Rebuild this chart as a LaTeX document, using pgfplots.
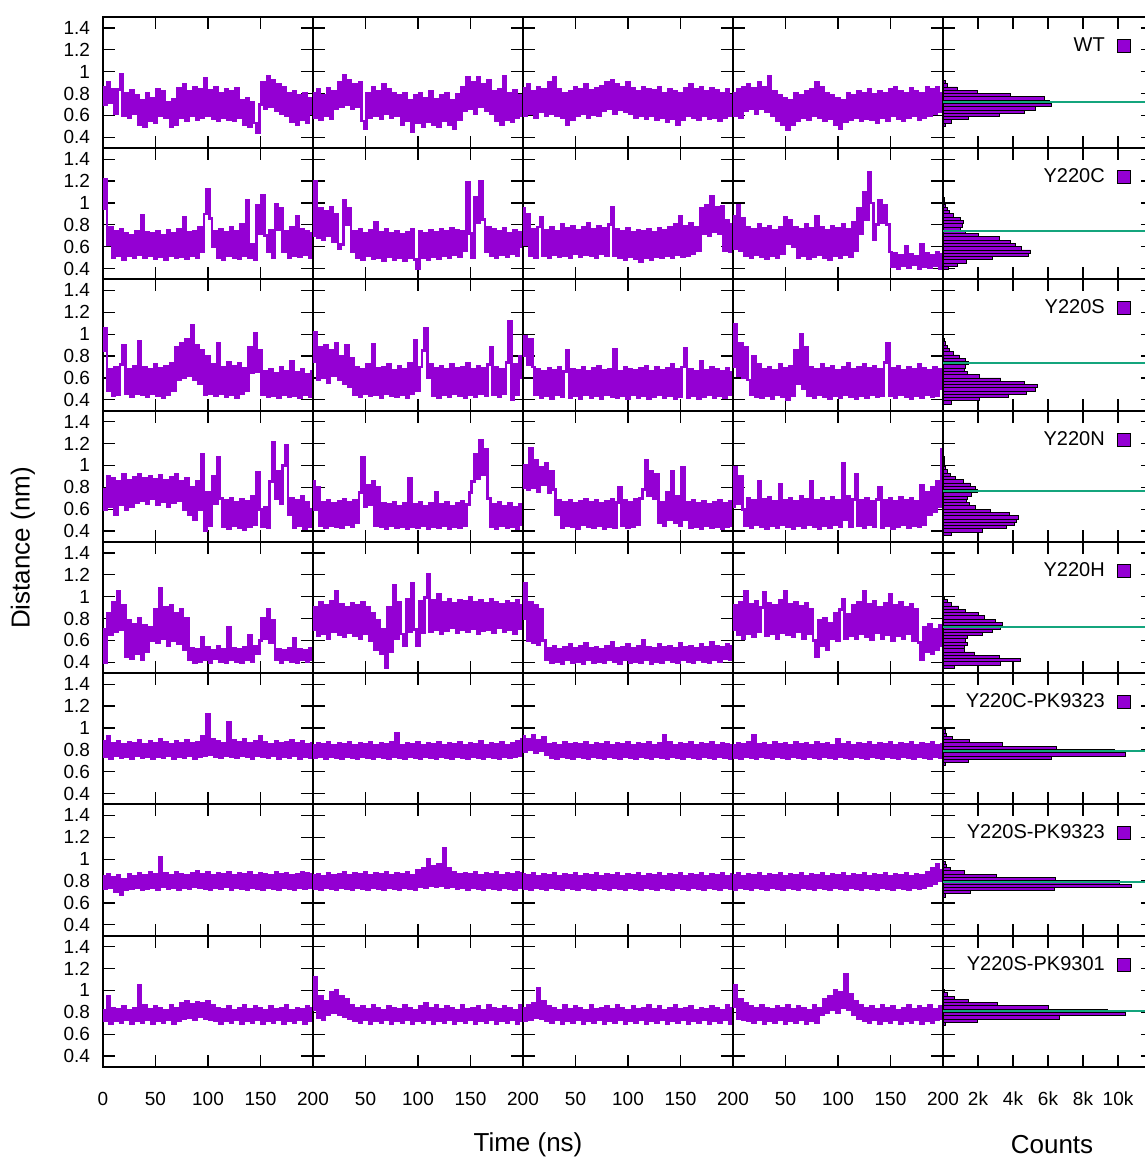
\documentclass[border=0pt]{standalone}
\usepackage{pgfplots}
\pgfplotsset{compat=1.18}
\usepackage{fontspec}
\setmainfont{Liberation Sans}
\definecolor{purp}{RGB}{148,0,211}
\definecolor{tealg}{RGB}{20,165,125}
\pgfplotsset{
  panel/.style={scale only axis, width=105pt, height=65.625pt, anchor=south west,
    ymin=0.3, ymax=1.5, ytick={0.4,0.6,0.8,1,1.2,1.4},
    xticklabels={}, yticklabels={},
    tick align=inside, major tick length=6pt,
    every tick/.style={black, line width=0.6pt},
    axis line style={black, line width=1pt},
    ticklabel style={font=\fontsize{9.5}{11}\selectfont},
    /pgf/number format/assume math mode=true},
  tsp/.style={panel, xmin=0, xmax=200, xtick={0,50,100,150,200}},
  hp/.style={panel, xmin=0, xmax=12000, xtick={0,2000,4000,6000,8000,10000}, scaled x ticks=false,
    legend plot pos=right,
    legend image code/.code={\draw[fill=purp,draw=black,line width=0.5pt] (0pt,-3.3pt) rectangle (6.6pt,3.3pt);},
    legend style={draw=none, fill=none, inner sep=0pt, outer sep=0pt,
      at={(axis description cs:0.895,0.78)}, anchor=east,
      nodes={inner sep=0pt, font=\fontsize{10}{12}\selectfont}, column sep=6pt}},
  lcol/.style={yticklabels={0.4,0.6,0.8,1,1.2,1.4}, yticklabel style={xshift=-3pt}},
  brow/.style={xticklabel style={yshift=-9pt}},
}
\newcommand{\ts}[1]{\addplot[purp, const plot mark mid, line width=1.35pt, line join=miter] table[row sep=\\, header=false, x expr=\coordindex*2.5, y index=0] {#1};}
\newcommand{\hist}[2]{\addplot[xbar, bar width=0.03, fill=purp, draw=black, line width=0.4pt, forget plot] table[row sep=\\, header=false, x index=1, y index=0] {#1};
 \addplot[tealg, line width=0.9pt, forget plot] coordinates {(0,#2) (12000,#2)};}
\begin{document}
\begin{tikzpicture}
\useasboundingbox (0,0) rectangle (572pt,580pt);
% ---------------- Row 1: WT
\begin{axis}[tsp, lcol, at={(51.5pt,505.875pt)}]
\ts{0.86\\0.70\\0.90\\0.72\\0.84\\0.62\\0.84\\0.98\\0.60\\0.80\\0.58\\0.83\\0.62\\0.78\\0.52\\0.74\\0.50\\0.80\\0.55\\0.76\\0.53\\
0.84\\0.60\\0.82\\0.58\\0.72\\0.50\\0.75\\0.52\\0.85\\0.58\\0.88\\0.55\\0.82\\0.60\\0.86\\0.56\\0.84\\0.58\\0.94\\0.60\\
0.83\\0.57\\0.86\\0.55\\0.80\\0.58\\0.84\\0.56\\0.82\\0.55\\0.85\\0.58\\0.74\\0.52\\0.76\\0.50\\0.72\\0.53\\0.44\\0.70\\
0.90\\0.66\\0.96\\0.68\\0.92\\0.64\\0.88\\0.62\\0.86\\0.60\\0.80\\0.54\\0.82\\0.52\\0.78\\0.56\\0.80\\0.53\\0.76\\0.62\\}
\end{axis}
\begin{axis}[tsp, at={(156.5pt,505.875pt)}]
\ts{0.80\\0.58\\0.84\\0.56\\0.78\\0.60\\0.85\\0.57\\0.82\\0.66\\0.90\\0.68\\0.97\\0.70\\0.92\\0.66\\0.88\\0.68\\0.90\\0.55\\0.48\\
0.80\\0.58\\0.86\\0.60\\0.82\\0.57\\0.88\\0.62\\0.84\\0.58\\0.80\\0.60\\0.78\\0.52\\0.80\\0.55\\0.74\\0.45\\0.78\\0.53\\
0.80\\0.50\\0.76\\0.54\\0.82\\0.52\\0.75\\0.50\\0.78\\0.55\\0.80\\0.52\\0.74\\0.48\\0.79\\0.56\\0.86\\0.64\\0.95\\0.66\\
0.90\\0.62\\0.95\\0.68\\0.88\\0.64\\0.92\\0.62\\0.82\\0.55\\0.84\\0.52\\0.96\\0.56\\0.80\\0.54\\0.83\\0.58\\0.78\\0.60\\}
\end{axis}
\begin{axis}[tsp, at={(261.5pt,505.875pt)}]
\ts{0.85\\0.60\\0.88\\0.62\\0.82\\0.58\\0.86\\0.63\\0.84\\0.60\\0.90\\0.62\\0.95\\0.60\\0.84\\0.58\\0.80\\0.52\\0.82\\0.56\\
0.86\\0.60\\0.84\\0.62\\0.88\\0.58\\0.83\\0.61\\0.85\\0.60\\0.87\\0.64\\0.90\\0.66\\0.92\\0.62\\0.88\\0.65\\0.86\\0.63\\
0.90\\0.62\\0.85\\0.58\\0.82\\0.60\\0.86\\0.57\\0.84\\0.60\\0.83\\0.56\\0.86\\0.58\\0.80\\0.54\\0.84\\0.57\\0.82\\0.52\\
0.80\\0.56\\0.85\\0.60\\0.88\\0.58\\0.84\\0.56\\0.86\\0.60\\0.82\\0.57\\0.85\\0.58\\0.83\\0.55\\0.80\\0.58\\0.84\\0.60\\0.78\\}
\end{axis}
\begin{axis}[tsp, at={(366.5pt,505.875pt)}]
\ts{0.80\\0.60\\0.84\\0.58\\0.86\\0.64\\0.88\\0.66\\0.85\\0.62\\0.90\\0.66\\0.86\\0.63\\0.96\\0.60\\0.82\\0.55\\0.78\\0.52\\
0.76\\0.47\\0.74\\0.52\\0.80\\0.55\\0.78\\0.58\\0.82\\0.56\\0.84\\0.60\\0.90\\0.58\\0.86\\0.55\\0.80\\0.57\\0.78\\0.52\\
0.76\\0.48\\0.74\\0.54\\0.80\\0.56\\0.78\\0.58\\0.82\\0.55\\0.80\\0.57\\0.84\\0.56\\0.79\\0.53\\0.82\\0.58\\0.80\\0.55\\
0.84\\0.60\\0.86\\0.57\\0.82\\0.55\\0.80\\0.58\\0.85\\0.60\\0.82\\0.56\\0.80\\0.58\\0.86\\0.60\\0.84\\0.62\\0.86\\0.63\\0.80\\}
\end{axis}
\begin{axis}[hp, at={(471.5pt,505.875pt)}]
\hist{0.965 20\\0.935 40\\0.905 110\\0.875 250\\0.845 800\\0.815 1960\\0.785 3870\\0.755 5770\\0.725 6100\\0.695 6200\\0.665 5260\\0.635 4670\\0.605 3200\\0.575 1450\\0.545 500\\0.515 150\\0.485 40\\0.455 20\\}{0.725}
\addlegendimage{fill=purp}\addlegendentry{WT}
\end{axis}
% ---------------- Row 2: Y220C
\begin{axis}[tsp, lcol, at={(51.5pt,440.25pt)}]
\ts{0.95\\1.22\\0.62\\0.78\\0.50\\0.74\\0.52\\0.76\\0.48\\0.72\\0.52\\0.70\\0.50\\0.74\\0.53\\0.89\\0.50\\0.73\\0.52\\
0.72\\0.49\\0.74\\0.51\\0.70\\0.48\\0.75\\0.52\\0.72\\0.50\\0.76\\0.51\\0.87\\0.49\\0.73\\0.52\\0.74\\0.50\\0.78\\0.55\\
0.90\\1.12\\0.86\\0.60\\0.74\\0.50\\0.76\\0.48\\0.73\\0.52\\0.78\\0.50\\0.74\\0.49\\0.80\\0.52\\1.02\\0.50\\0.62\\0.48\\
0.98\\0.72\\1.07\\0.70\\0.55\\0.75\\0.50\\0.99\\0.76\\0.95\\0.55\\0.74\\0.50\\0.78\\0.52\\0.88\\0.51\\0.76\\0.53\\0.74\\0.50\\0.72\\}
\end{axis}
\begin{axis}[tsp, at={(156.5pt,440.25pt)}]
\ts{0.70\\1.20\\0.68\\0.95\\0.66\\0.92\\0.70\\0.96\\0.65\\0.90\\0.58\\0.62\\1.02\\0.80\\0.95\\
0.55\\0.74\\0.50\\0.76\\0.48\\0.72\\0.52\\0.75\\0.49\\0.82\\0.50\\0.73\\0.47\\0.76\\0.51\\0.72\\0.48\\0.74\\0.50\\0.71\\
0.47\\0.73\\0.50\\0.76\\0.48\\0.40\\0.74\\0.50\\0.72\\0.48\\0.75\\0.51\\0.73\\0.49\\0.76\\0.52\\0.74\\0.50\\0.77\\0.53\\
0.75\\0.51\\0.74\\0.56\\1.19\\0.72\\0.50\\1.05\\0.82\\1.20\\0.85\\0.55\\0.78\\
0.52\\0.76\\0.50\\0.74\\0.53\\0.77\\0.51\\0.72\\0.54\\0.75\\0.52\\0.73\\0.60\\}
\end{axis}
\begin{axis}[tsp, at={(261.5pt,440.25pt)}]
\ts{0.95\\0.62\\0.90\\0.52\\0.76\\0.50\\0.78\\0.87\\0.52\\0.75\\0.50\\0.78\\0.53\\0.74\\0.51\\0.80\\0.52\\0.77\\0.50\\
0.79\\0.54\\0.75\\0.51\\0.78\\0.53\\0.81\\0.52\\0.76\\0.50\\0.79\\0.54\\0.77\\0.52\\0.80\\0.96\\
0.52\\0.76\\0.50\\0.74\\0.48\\0.77\\0.51\\0.73\\0.49\\0.75\\0.46\\0.74\\0.50\\0.76\\0.48\\0.73\\0.51\\0.77\\0.50\\0.75\\
0.52\\0.78\\0.50\\0.80\\0.53\\0.88\\0.51\\0.79\\0.52\\0.81\\0.54\\0.78\\0.56\\
0.95\\0.72\\0.98\\0.70\\1.06\\0.74\\0.96\\0.72\\0.97\\0.56\\0.84\\0.55\\0.80\\}
\end{axis}
\begin{axis}[tsp, at={(366.5pt,440.25pt)}]
\ts{0.88\\0.58\\0.98\\0.56\\0.86\\0.52\\0.78\\0.50\\0.76\\0.53\\0.80\\0.51\\0.77\\0.49\\0.79\\0.52\\0.75\\0.50\\0.78\\0.54\\
0.87\\0.63\\0.84\\0.60\\0.78\\0.50\\0.76\\0.52\\0.80\\0.49\\0.77\\0.51\\0.88\\0.53\\0.78\\0.50\\0.75\\0.48\\0.79\\0.52\\
0.77\\0.50\\0.80\\0.53\\0.76\\0.51\\0.82\\0.56\\0.95\\0.72\\1.10\\0.85\\1.28\\1.00\\0.66\\0.80\\1.02\\0.82\\0.98\\0.80\\
0.55\\0.42\\0.54\\0.40\\0.52\\0.43\\0.60\\0.41\\0.53\\0.44\\0.51\\0.40\\0.62\\0.42\\0.54\\0.41\\0.52\\0.43\\0.55\\0.40\\0.53\\}
\end{axis}
\begin{axis}[hp, at={(471.5pt,440.25pt)}]
\hist{1.065 40\\1.035 60\\1.005 100\\0.975 150\\0.945 250\\0.915 380\\0.885 570\\0.855 1000\\0.825 1140\\0.795 1100\\0.765 1000\\0.735 1300\\0.705 2000\\0.675 3200\\0.645 3870\\0.615 4150\\0.585 4500\\0.555 5000\\0.525 4900\\0.495 2800\\0.465 1330\\0.435 820\\0.405 300\\}{0.743}
\addlegendimage{fill=purp}\addlegendentry{Y220C}
\end{axis}
% ---------------- Row 3: Y220S
\begin{axis}[tsp, lcol, at={(51.5pt,374.625pt)}]
\ts{0.85\\1.05\\0.48\\0.68\\0.44\\0.70\\0.45\\0.72\\0.90\\0.46\\0.68\\0.43\\0.71\\0.46\\0.93\\
0.45\\0.70\\0.43\\0.68\\0.46\\0.72\\0.44\\0.69\\0.42\\0.71\\0.45\\0.73\\0.48\\
0.88\\0.58\\0.92\\0.60\\0.95\\0.62\\1.08\\0.58\\0.90\\0.55\\0.85\\0.45\\0.80\\
0.46\\0.72\\0.44\\0.92\\0.46\\0.70\\0.43\\0.74\\0.45\\0.71\\0.42\\0.73\\0.46\\0.69\\0.48\\
0.88\\0.65\\1.01\\0.66\\0.85\\
0.45\\0.66\\0.43\\0.68\\0.44\\0.64\\0.42\\0.70\\0.45\\0.66\\0.43\\0.75\\0.44\\0.65\\0.42\\0.68\\0.45\\0.63\\0.43\\0.66\\}
\end{axis}
\begin{axis}[tsp, at={(156.5pt,374.625pt)}]
\ts{0.75\\1.02\\0.58\\0.88\\0.60\\0.90\\0.56\\0.85\\0.62\\0.92\\0.58\\0.80\\0.55\\0.90\\0.52\\0.78\\
0.45\\0.70\\0.43\\0.68\\0.46\\0.72\\0.44\\0.91\\0.45\\0.69\\0.42\\0.70\\0.46\\0.72\\0.44\\0.67\\0.43\\0.71\\0.45\\0.68\\
0.42\\0.73\\0.46\\0.94\\0.48\\0.70\\0.85\\1.05\\0.60\\0.72\\0.44\\0.69\\0.42\\0.71\\0.45\\0.68\\0.43\\0.72\\0.46\\0.69\\
0.44\\0.70\\0.42\\0.73\\0.45\\0.68\\0.43\\0.71\\0.46\\0.69\\0.44\\0.72\\0.88\\0.45\\0.70\\0.43\\0.68\\0.46\\0.74\\1.12\\
0.40\\0.72\\0.45\\0.80\\0.60\\}
\end{axis}
\begin{axis}[tsp, at={(261.5pt,374.625pt)}]
\ts{0.80\\0.98\\0.72\\0.95\\0.70\\0.45\\
0.68\\0.42\\0.66\\0.44\\0.69\\0.41\\0.67\\0.45\\0.70\\0.43\\0.66\\0.85\\0.42\\0.68\\0.44\\0.67\\0.41\\0.70\\0.45\\0.66\\
0.42\\0.69\\0.44\\0.71\\0.41\\0.67\\0.45\\0.68\\0.43\\0.86\\0.42\\0.66\\0.44\\0.70\\0.41\\0.68\\0.45\\0.67\\0.42\\0.69\\
0.44\\0.71\\0.41\\0.66\\0.43\\0.70\\0.45\\0.67\\0.42\\0.69\\0.44\\0.72\\0.41\\0.68\\0.43\\0.70\\0.87\\0.42\\0.68\\0.44\\
0.66\\0.41\\0.75\\0.43\\0.67\\0.45\\0.70\\0.42\\0.68\\0.44\\0.66\\0.42\\0.69\\0.45\\0.65\\}
\end{axis}
\begin{axis}[tsp, at={(366.5pt,374.625pt)}]
\ts{0.70\\1.09\\0.62\\0.92\\0.60\\0.88\\0.58\\0.45\\0.80\\0.43\\0.72\\
0.42\\0.68\\0.44\\0.70\\0.41\\0.67\\0.45\\0.72\\0.43\\0.69\\0.40\\0.71\\0.44\\0.85\\0.55\\1.00\\0.50\\0.88\\
0.44\\0.70\\0.42\\0.68\\0.45\\0.72\\0.43\\0.69\\0.41\\0.71\\0.44\\0.67\\0.42\\0.70\\0.45\\0.73\\0.43\\0.68\\0.41\\0.70\\
0.44\\0.72\\0.42\\0.69\\0.45\\0.71\\0.43\\0.68\\0.44\\0.74\\0.92\\
0.44\\0.69\\0.42\\0.71\\0.45\\0.67\\0.43\\0.70\\0.41\\0.68\\0.44\\0.72\\0.42\\0.69\\0.45\\0.67\\0.43\\0.70\\0.44\\0.68\\0.50\\}
\end{axis}
\begin{axis}[hp, at={(471.5pt,374.625pt)}]
\hist{0.945 60\\0.915 150\\0.885 250\\0.855 380\\0.825 570\\0.795 910\\0.765 1260\\0.735 1450\\0.705 1300\\0.675 1200\\0.645 1390\\0.615 2060\\0.585 3300\\0.555 4630\\0.525 5390\\0.495 5300\\0.465 4780\\0.435 3710\\0.405 2060\\0.375 500\\}{0.733}
\addlegendimage{fill=purp}\addlegendentry{Y220S}
\end{axis}
% ---------------- Row 4: Y220N
\begin{axis}[tsp, lcol, at={(51.5pt,309pt)}]
\ts{0.78\\0.60\\0.90\\0.62\\0.88\\0.55\\0.85\\0.64\\0.92\\0.60\\0.86\\0.62\\0.89\\
0.66\\0.92\\0.68\\0.88\\0.65\\0.90\\0.70\\0.87\\0.64\\0.91\\0.67\\0.86\\0.62\\0.89\\0.66\\0.92\\0.68\\0.85\\
0.60\\0.88\\0.55\\0.80\\0.50\\0.85\\0.60\\1.10\\0.40\\0.75\\0.45\\0.90\\0.65\\1.07\\0.70\\
0.44\\0.68\\0.42\\0.70\\0.45\\0.66\\0.43\\0.69\\0.41\\0.67\\0.44\\0.72\\0.46\\0.94\\0.60\\0.44\\0.62\\0.43\\
0.85\\1.21\\0.70\\0.95\\0.65\\1.00\\1.18\\0.55\\0.70\\0.43\\0.68\\0.45\\0.72\\0.42\\0.66\\0.44\\0.60\\}
\end{axis}
\begin{axis}[tsp, at={(156.5pt,309pt)}]
\ts{0.85\\0.60\\0.80\\0.45\\0.66\\0.43\\0.68\\0.45\\0.65\\0.44\\0.67\\0.43\\0.69\\0.46\\0.66\\0.44\\0.68\\0.48\\
0.75\\1.07\\0.62\\0.82\\0.64\\0.85\\0.45\\0.80\\0.44\\
0.65\\0.42\\0.64\\0.45\\0.66\\0.43\\0.63\\0.44\\0.65\\0.42\\0.88\\0.44\\0.64\\0.43\\0.66\\0.45\\0.63\\0.42\\0.65\\0.44\\
0.75\\0.43\\0.64\\0.45\\0.66\\0.42\\0.63\\0.44\\0.65\\0.43\\0.67\\0.45\\0.64\\0.75\\
0.85\\1.10\\0.88\\1.23\\0.92\\1.15\\0.70\\
0.44\\0.64\\0.42\\0.66\\0.45\\0.63\\0.43\\0.65\\0.44\\0.62\\0.42\\0.64\\0.46\\}
\end{axis}
\begin{axis}[tsp, at={(261.5pt,309pt)}]
\ts{0.80\\1.00\\0.78\\1.16\\0.80\\1.05\\0.76\\0.98\\0.82\\1.02\\0.75\\0.95\\0.78\\0.55\\0.68\\
0.43\\0.66\\0.45\\0.68\\0.44\\0.65\\0.42\\0.67\\0.46\\0.69\\0.44\\0.66\\0.43\\0.68\\0.45\\0.65\\
0.42\\0.67\\0.44\\0.69\\0.43\\0.66\\0.80\\0.45\\0.68\\0.43\\0.66\\0.44\\0.69\\0.46\\0.70\\
0.78\\1.05\\0.72\\0.95\\0.70\\0.92\\0.48\\0.66\\0.45\\
0.75\\0.50\\0.95\\0.48\\0.72\\0.45\\0.98\\0.50\\
0.66\\0.43\\0.68\\0.44\\0.65\\0.42\\0.67\\0.45\\0.64\\0.43\\0.66\\0.44\\0.68\\0.42\\0.65\\0.44\\0.67\\0.45\\}
\end{axis}
\begin{axis}[tsp, at={(366.5pt,309pt)}]
\ts{0.62\\0.98\\0.65\\0.90\\0.60\\
0.45\\0.70\\0.43\\0.68\\0.46\\0.85\\0.44\\0.69\\0.42\\0.71\\0.45\\0.67\\0.43\\0.83\\0.46\\0.68\\0.44\\0.70\\0.42\\0.67\\
0.45\\0.72\\0.43\\0.69\\0.46\\0.85\\0.44\\0.68\\0.42\\0.70\\0.45\\0.67\\0.43\\0.71\\0.46\\0.68\\0.44\\1.02\\0.50\\0.72\\
0.44\\0.69\\0.92\\0.45\\0.68\\0.43\\0.70\\0.46\\0.67\\0.44\\0.69\\0.80\\0.43\\0.68\\0.45\\0.70\\0.42\\0.67\\0.44\\0.71\\
0.46\\0.68\\0.43\\0.70\\0.45\\0.67\\0.44\\0.82\\0.46\\0.75\\0.55\\0.80\\0.58\\0.85\\0.62\\1.15\\}
\end{axis}
\begin{axis}[hp, at={(471.5pt,309pt)}]
\hist{1.095 50\\1.065 60\\1.035 80\\1.005 100\\0.975 150\\0.945 250\\0.915 440\\0.885 690\\0.855 1150\\0.825 1550\\0.795 1850\\0.765 1960\\0.735 1640\\0.705 1390\\0.675 1330\\0.645 1490\\0.615 1870\\0.585 2700\\0.555 3800\\0.525 4300\\0.495 4200\\0.465 4060\\0.435 3600\\0.405 2250\\0.375 500\\}{0.766}
\addlegendimage{fill=purp}\addlegendentry{Y220N}
\end{axis}
% ---------------- Row 5: Y220H
\begin{axis}[tsp, lcol, at={(51.5pt,243.375pt)}]
\ts{0.70\\0.40\\0.85\\0.65\\0.95\\0.68\\1.05\\0.70\\0.92\\
0.45\\0.78\\0.43\\0.75\\0.48\\0.80\\0.42\\0.74\\0.50\\0.72\\
0.60\\0.88\\0.58\\1.08\\0.62\\0.90\\0.55\\0.92\\0.60\\0.85\\0.57\\0.88\\0.52\\0.80\\
0.42\\0.53\\0.40\\0.52\\0.41\\0.63\\0.42\\0.54\\0.40\\0.51\\0.43\\0.55\\0.41\\0.52\\0.40\\0.72\\0.42\\0.53\\0.41\\0.52\\
0.40\\0.54\\0.42\\0.65\\0.41\\0.55\\0.48\\0.60\\0.80\\0.62\\0.88\\0.58\\0.78\\
0.42\\0.52\\0.40\\0.51\\0.42\\0.53\\0.41\\0.62\\0.40\\0.52\\0.42\\0.51\\0.41\\0.53\\0.42\\}
\end{axis}
\begin{axis}[tsp, at={(156.5pt,243.375pt)}]
\ts{0.70\\0.90\\0.64\\0.95\\0.66\\0.92\\0.62\\0.96\\0.68\\1.05\\0.65\\0.93\\0.63\\0.90\\0.67\\0.94\\0.64\\0.92\\0.62\\0.95\\
0.66\\0.90\\0.60\\0.85\\0.52\\0.78\\0.48\\0.70\\0.35\\0.90\\0.50\\1.10\\0.62\\
0.95\\0.66\\0.55\\0.98\\0.68\\1.12\\0.70\\0.55\\0.96\\0.67\\0.99\\1.20\\0.68\\0.97\\0.70\\1.02\\0.66\\0.95\\0.69\\0.98\\
0.72\\0.94\\0.67\\0.97\\0.70\\0.96\\0.68\\0.99\\0.71\\0.95\\0.66\\0.97\\0.69\\0.94\\0.70\\0.98\\0.67\\0.95\\0.72\\0.93\\
0.68\\0.96\\0.70\\0.94\\0.66\\0.97\\0.71\\0.92\\}
\end{axis}
\begin{axis}[tsp, at={(261.5pt,243.375pt)}]
\ts{0.80\\1.12\\0.60\\0.95\\0.58\\0.92\\0.56\\0.88\\0.60\\0.42\\
0.53\\0.40\\0.55\\0.41\\0.52\\0.39\\0.54\\0.42\\0.56\\0.40\\0.53\\0.41\\0.55\\0.39\\0.57\\0.42\\0.53\\0.40\\0.54\\0.41\\
0.52\\0.40\\0.55\\0.42\\0.58\\0.41\\0.53\\0.39\\0.54\\0.42\\0.56\\0.40\\0.53\\0.41\\0.55\\0.40\\0.60\\0.42\\0.54\\0.39\\
0.53\\0.41\\0.56\\0.40\\0.54\\0.42\\0.55\\0.41\\0.53\\0.40\\0.57\\0.42\\0.54\\0.41\\0.55\\0.40\\0.53\\0.42\\0.56\\0.41\\
0.54\\0.40\\0.58\\0.42\\0.55\\0.41\\0.54\\0.43\\0.56\\0.42\\0.55\\}
\end{axis}
\begin{axis}[tsp, at={(366.5pt,243.375pt)}]
\ts{0.70\\0.92\\0.65\\0.95\\0.62\\1.05\\0.66\\0.93\\0.63\\0.96\\0.68\\0.90\\1.04\\0.64\\0.94\\0.66\\0.92\\0.62\\0.97\\0.67\\
1.05\\0.65\\0.93\\0.63\\0.95\\0.68\\0.91\\0.62\\0.94\\0.66\\0.88\\0.60\\
0.45\\0.78\\0.55\\0.80\\0.52\\0.76\\0.62\\0.85\\0.60\\0.88\\0.98\\0.62\\0.84\\
0.64\\0.92\\0.62\\0.95\\0.66\\1.05\\0.63\\0.93\\0.61\\0.96\\0.67\\0.90\\0.62\\0.94\\0.65\\1.02\\0.60\\0.92\\0.64\\0.95\\
0.62\\0.90\\0.66\\0.93\\0.60\\0.88\\0.58\\0.42\\0.72\\0.50\\0.75\\0.48\\0.70\\0.52\\0.74\\0.55\\}
\end{axis}
\begin{axis}[hp, at={(471.5pt,243.375pt)}]
\hist{0.99 70\\0.96 250\\0.93 500\\0.90 900\\0.87 1300\\0.84 2000\\0.81 2350\\0.78 3000\\0.75 3390\\0.72 3300\\0.69 2800\\0.66 2250\\0.63 1400\\0.60 1300\\0.57 1400\\0.54 1200\\0.51 1200\\0.48 1800\\0.45 3200\\0.42 4440\\0.39 3300\\0.36 630\\}{0.722}
\addlegendimage{fill=purp}\addlegendentry{Y220H}
\end{axis}
% ---------------- Row 6: Y220C-PK9323
\begin{axis}[tsp, lcol, at={(51.5pt,177.75pt)}]
\ts{0.88\\0.74\\0.92\\0.72\\0.86\\0.75\\0.88\\0.73\\0.85\\0.74\\0.87\\0.72\\0.86\\0.75\\0.89\\0.73\\0.85\\0.74\\0.88\\0.72\\
0.86\\0.74\\0.90\\0.73\\0.87\\0.75\\0.85\\0.72\\0.88\\0.74\\0.86\\0.73\\0.89\\0.75\\0.86\\0.72\\0.87\\0.74\\0.92\\0.75\\
1.12\\0.76\\0.90\\0.74\\0.88\\0.73\\0.86\\0.75\\1.05\\0.74\\0.89\\0.73\\0.87\\0.75\\0.90\\0.74\\0.86\\0.72\\0.88\\0.75\\
0.92\\0.74\\0.87\\0.73\\0.85\\0.75\\0.88\\0.72\\0.86\\0.74\\0.87\\0.73\\0.89\\0.75\\0.86\\0.72\\0.88\\0.74\\0.85\\0.73\\0.86\\}
\end{axis}
\begin{axis}[tsp, at={(156.5pt,177.75pt)}]
\ts{0.84\\0.73\\0.86\\0.74\\0.85\\0.72\\0.87\\0.74\\0.84\\0.73\\0.86\\0.72\\0.85\\0.74\\0.87\\0.73\\0.84\\0.72\\0.86\\0.74\\
0.85\\0.73\\0.87\\0.72\\0.84\\0.74\\0.86\\0.73\\0.85\\0.72\\0.87\\0.74\\0.95\\0.73\\0.84\\0.72\\0.86\\0.74\\0.85\\0.73\\
0.87\\0.72\\0.84\\0.74\\0.86\\0.73\\0.85\\0.72\\0.87\\0.74\\0.84\\0.73\\0.86\\0.72\\0.85\\0.74\\0.87\\0.73\\0.84\\0.72\\
0.86\\0.74\\0.85\\0.73\\0.88\\0.72\\0.84\\0.74\\0.86\\0.73\\0.85\\0.72\\0.87\\0.74\\0.84\\0.73\\0.86\\0.74\\0.88\\0.75\\0.90\\}
\end{axis}
\begin{axis}[tsp, at={(261.5pt,177.75pt)}]
\ts{0.92\\0.78\\0.90\\0.80\\0.93\\0.77\\0.89\\0.79\\0.91\\0.76\\0.85\\0.73\\0.86\\0.72\\0.84\\0.74\\0.87\\0.73\\0.85\\0.72\\
0.86\\0.74\\0.85\\0.73\\0.87\\0.72\\0.84\\0.74\\0.86\\0.73\\0.85\\0.72\\0.87\\0.74\\0.84\\0.73\\0.86\\0.72\\0.85\\0.74\\
0.87\\0.73\\0.84\\0.72\\0.86\\0.74\\0.85\\0.73\\0.87\\0.72\\0.84\\0.74\\0.86\\0.73\\0.93\\0.72\\0.87\\0.74\\0.84\\0.73\\
0.86\\0.72\\0.85\\0.74\\0.87\\0.73\\0.84\\0.72\\0.86\\0.74\\0.85\\0.73\\0.87\\0.72\\0.84\\0.74\\0.86\\0.73\\0.85\\0.72\\0.84\\}
\end{axis}
\begin{axis}[tsp, at={(366.5pt,177.75pt)}]
\ts{0.84\\0.73\\0.86\\0.72\\0.85\\0.74\\0.87\\0.73\\0.93\\0.72\\0.85\\0.74\\0.86\\0.73\\0.84\\0.72\\0.87\\0.74\\0.85\\0.73\\
0.86\\0.72\\0.84\\0.74\\0.87\\0.73\\0.85\\0.72\\0.86\\0.74\\0.84\\0.73\\0.87\\0.72\\0.85\\0.74\\0.86\\0.73\\0.84\\0.72\\
0.90\\0.74\\0.85\\0.73\\0.87\\0.72\\0.84\\0.74\\0.86\\0.73\\0.85\\0.72\\0.87\\0.74\\0.84\\0.73\\0.86\\0.72\\0.85\\0.74\\
0.87\\0.73\\0.84\\0.72\\0.86\\0.74\\0.85\\0.73\\0.87\\0.72\\0.84\\0.74\\0.86\\0.73\\0.85\\0.72\\0.87\\0.74\\0.84\\0.73\\0.85\\}
\end{axis}
\begin{axis}[hp, at={(471.5pt,177.75pt)}]
\hist{0.969 110\\0.939 190\\0.909 530\\0.879 1520\\0.849 3390\\0.819 6500\\0.789 9770\\0.759 10440\\0.729 6200\\0.699 1450\\0.669 150\\}{0.792}
\addlegendimage{fill=purp}\addlegendentry{Y220C-PK9323}
\end{axis}
% ---------------- Row 7: Y220S-PK9323
\begin{axis}[tsp, lcol, at={(51.5pt,112.125pt)}]
\ts{0.84\\0.73\\0.86\\0.74\\0.83\\0.70\\0.85\\0.68\\0.82\\0.72\\0.86\\0.73\\0.84\\0.74\\0.87\\0.72\\0.85\\0.73\\0.88\\0.74\\
0.86\\0.72\\1.02\\0.75\\0.87\\0.73\\0.85\\0.74\\0.88\\0.72\\0.86\\0.74\\0.85\\0.73\\0.87\\0.75\\0.89\\0.74\\0.86\\0.73\\
0.88\\0.72\\0.85\\0.74\\0.87\\0.73\\0.86\\0.75\\0.88\\0.72\\0.85\\0.74\\0.87\\0.73\\0.86\\0.72\\0.88\\0.74\\0.85\\0.73\\
0.87\\0.72\\0.86\\0.74\\0.85\\0.73\\0.88\\0.72\\0.86\\0.74\\0.87\\0.73\\0.85\\0.72\\0.86\\0.74\\0.88\\0.73\\0.87\\0.74\\0.86\\}
\end{axis}
\begin{axis}[tsp, at={(156.5pt,112.125pt)}]
\ts{0.85\\0.73\\0.86\\0.72\\0.84\\0.74\\0.87\\0.73\\0.85\\0.72\\0.86\\0.74\\0.88\\0.73\\0.85\\0.72\\0.87\\0.74\\0.86\\0.73\\
0.88\\0.72\\0.85\\0.74\\0.87\\0.73\\0.86\\0.72\\0.88\\0.74\\0.85\\0.73\\0.87\\0.72\\0.86\\0.74\\0.88\\0.73\\0.85\\0.72\\
0.90\\0.75\\0.92\\0.74\\1.00\\0.76\\0.93\\0.75\\0.95\\0.76\\1.10\\0.74\\0.92\\0.75\\0.88\\0.73\\0.86\\0.74\\0.87\\0.72\\
0.86\\0.74\\0.88\\0.73\\0.85\\0.72\\0.87\\0.74\\0.86\\0.73\\0.88\\0.72\\0.85\\0.74\\0.87\\0.73\\0.86\\0.72\\0.88\\0.74\\0.87\\}
\end{axis}
\begin{axis}[tsp, at={(261.5pt,112.125pt)}]
\ts{0.86\\0.73\\0.85\\0.72\\0.87\\0.74\\0.84\\0.73\\0.86\\0.72\\0.85\\0.74\\0.87\\0.73\\0.84\\0.72\\0.86\\0.74\\0.85\\0.73\\
0.87\\0.72\\0.84\\0.74\\0.86\\0.73\\0.85\\0.72\\0.87\\0.74\\0.84\\0.73\\0.86\\0.72\\0.85\\0.74\\0.87\\0.73\\0.84\\0.72\\
0.86\\0.74\\0.85\\0.73\\0.87\\0.72\\0.84\\0.74\\0.86\\0.73\\0.85\\0.72\\0.87\\0.74\\0.84\\0.73\\0.86\\0.72\\0.85\\0.74\\
0.87\\0.73\\0.84\\0.72\\0.86\\0.74\\0.85\\0.73\\0.87\\0.72\\0.84\\0.74\\0.86\\0.73\\0.85\\0.72\\0.87\\0.74\\0.84\\0.73\\0.86\\}
\end{axis}
\begin{axis}[tsp, at={(366.5pt,112.125pt)}]
\ts{0.85\\0.72\\0.87\\0.74\\0.84\\0.73\\0.86\\0.72\\0.85\\0.74\\0.87\\0.73\\0.84\\0.72\\0.86\\0.74\\0.85\\0.73\\0.87\\0.72\\
0.84\\0.74\\0.86\\0.73\\0.85\\0.72\\0.87\\0.74\\0.84\\0.73\\0.86\\0.72\\0.85\\0.74\\0.87\\0.73\\0.84\\0.72\\0.86\\0.74\\
0.85\\0.73\\0.87\\0.72\\0.84\\0.74\\0.86\\0.73\\0.85\\0.72\\0.87\\0.74\\0.84\\0.73\\0.86\\0.72\\0.85\\0.74\\0.87\\0.73\\
0.84\\0.72\\0.86\\0.74\\0.85\\0.73\\0.87\\0.72\\0.84\\0.74\\0.86\\0.73\\0.85\\0.74\\0.88\\0.76\\0.92\\0.78\\0.95\\0.80\\0.90\\}
\end{axis}
\begin{axis}[hp, at={(471.5pt,112.125pt)}]
\hist{0.968 110\\0.938 190\\0.908 440\\0.878 1200\\0.848 3070\\0.818 6400\\0.788 10060\\0.758 10760\\0.728 6340\\0.698 1580\\0.668 110\\}{0.788}
\addlegendimage{fill=purp}\addlegendentry{Y220S-PK9323}
\end{axis}
% ---------------- Row 8: Y220S-PK9301
\begin{axis}[tsp, lcol, brow, xticklabels={0,50,100,150,200}, at={(51.5pt,46.5pt)}]
\ts{0.82\\0.72\\0.95\\0.70\\0.84\\0.72\\0.83\\0.71\\0.85\\0.73\\0.82\\0.70\\0.84\\0.72\\1.05\\0.71\\0.86\\0.73\\0.83\\0.70\\
0.85\\0.72\\0.84\\0.71\\0.82\\0.73\\0.86\\0.70\\0.84\\0.72\\0.88\\0.74\\0.90\\0.75\\0.87\\0.73\\0.89\\0.76\\0.88\\0.74\\
0.90\\0.73\\0.86\\0.72\\0.84\\0.70\\0.83\\0.72\\0.85\\0.71\\0.82\\0.73\\0.84\\0.70\\0.86\\0.72\\0.83\\0.71\\0.85\\0.73\\
0.84\\0.70\\0.82\\0.72\\0.85\\0.71\\0.83\\0.73\\0.84\\0.70\\0.86\\0.72\\0.82\\0.71\\0.84\\0.73\\0.83\\0.70\\0.85\\0.72\\0.84\\}
\end{axis}
\begin{axis}[tsp, brow, xticklabels={,50,100,150,200}, at={(156.5pt,46.5pt)}]
\ts{0.82\\1.12\\0.75\\0.95\\0.73\\0.90\\0.78\\0.98\\0.80\\1.00\\0.78\\0.95\\0.76\\0.92\\0.74\\0.86\\0.72\\0.84\\0.71\\0.85\\
0.73\\0.83\\0.70\\0.86\\0.72\\0.84\\0.71\\0.82\\0.73\\0.85\\0.70\\0.84\\0.72\\0.83\\0.71\\0.86\\0.73\\0.84\\0.70\\0.82\\
0.72\\0.85\\0.71\\0.88\\0.73\\0.84\\0.70\\0.86\\0.72\\0.83\\0.71\\0.85\\0.73\\0.84\\0.70\\0.82\\0.72\\0.86\\0.71\\0.83\\
0.73\\0.84\\0.70\\0.85\\0.72\\0.82\\0.71\\0.86\\0.73\\0.84\\0.70\\0.83\\0.72\\0.85\\0.71\\0.84\\0.73\\0.82\\0.70\\0.86\\0.72\\}
\end{axis}
\begin{axis}[tsp, brow, xticklabels={,50,100,150,200}, at={(261.5pt,46.5pt)}]
\ts{0.84\\0.72\\0.86\\0.73\\0.88\\0.75\\1.02\\0.74\\0.90\\0.72\\0.85\\0.71\\0.84\\0.73\\0.82\\0.70\\0.86\\0.72\\0.83\\0.71\\
0.85\\0.73\\0.84\\0.70\\0.82\\0.72\\0.86\\0.71\\0.83\\0.73\\0.84\\0.70\\0.85\\0.72\\0.83\\0.71\\0.86\\0.73\\0.84\\0.70\\
0.82\\0.72\\0.85\\0.71\\0.83\\0.73\\0.84\\0.70\\0.86\\0.72\\0.83\\0.71\\0.85\\0.73\\0.82\\0.70\\0.84\\0.72\\0.86\\0.71\\
0.83\\0.73\\0.84\\0.70\\0.85\\0.72\\0.82\\0.71\\0.84\\0.73\\0.83\\0.70\\0.85\\0.72\\0.84\\0.71\\0.82\\0.73\\0.86\\0.70\\0.84\\}
\end{axis}
\begin{axis}[tsp, brow, xticklabels={,50,100,150,200}, at={(366.5pt,46.5pt)}]
\ts{0.85\\1.05\\0.74\\0.92\\0.73\\0.88\\0.72\\0.85\\0.71\\0.84\\0.73\\0.86\\0.70\\0.84\\0.72\\0.83\\0.71\\0.85\\0.73\\0.84\\
0.70\\0.86\\0.72\\0.83\\0.71\\0.85\\0.73\\0.84\\0.70\\0.82\\0.72\\0.86\\0.71\\0.84\\0.78\\0.92\\0.80\\0.95\\0.82\\1.00\\
0.80\\0.98\\0.84\\1.15\\0.82\\0.96\\0.78\\0.90\\0.74\\0.86\\0.72\\0.84\\0.71\\0.85\\0.73\\0.83\\0.70\\0.86\\0.72\\0.84\\
0.71\\0.85\\0.73\\0.82\\0.70\\0.84\\0.72\\0.86\\0.71\\0.83\\0.73\\0.85\\0.70\\0.84\\0.72\\0.86\\0.71\\0.83\\0.73\\0.85\\0.74\\}
\end{axis}
\begin{axis}[hp, brow, xticklabels={,2k,4k,6k,8k,10k}, at={(471.5pt,46.5pt)}]
\hist{1.024 40\\0.994 100\\0.964 250\\0.934 630\\0.904 1430\\0.874 3100\\0.844 6000\\0.814 9400\\0.784 10440\\0.754 6670\\0.724 1960\\0.694 150\\}{0.814}
\addlegendimage{fill=purp}\addlegendentry{Y220S-PK9301}
\end{axis}
\node[rotate=90, font=\fontsize{13}{15}\selectfont] at (11.5pt,306pt) {Distance (nm)};
\node[font=\fontsize{13}{15}\selectfont] at (264pt,7.5pt) {Time (ns)};
\node[font=\fontsize{13}{15}\selectfont] at (526pt,7.5pt) {Counts};
\end{tikzpicture}
\end{document}
